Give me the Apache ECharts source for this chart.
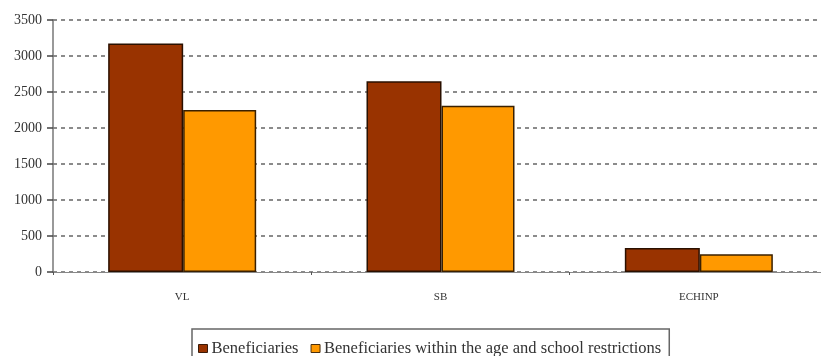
<!DOCTYPE html>
<html>
<head>
<meta charset="utf-8">
<script src="https://cdn.jsdelivr.net/npm/echarts@6/dist/echarts.min.js"></script>
<style>
  html, body { margin: 0; padding: 0; background: #ffffff; }
  #chart { width: 821px; height: 356px; }
</style>
</head>
<body>
<div id="chart"></div>
<script>
// Programmes shown along the x axis
const categories = ['VL', 'SB', 'ECHINP'];
// Number of beneficiaries per programme
const beneficiaries = [3175, 2650, 335];
// Beneficiaries who fall within the age and school restrictions
const withinRestrictions = [2250, 2310, 245];
// Value axis ticks
const yTicks = [0, 500, 1000, 1500, 2000, 2500, 3000, 3500];

const serif = '"Liberation Serif", "DejaVu Serif", serif';
const chart = echarts.init(document.getElementById('chart'));

chart.setOption({
  animation: false,
  backgroundColor: '#ffffff',
  // the plot runs past the right edge of the canvas, so keep the grid unclamped
  grid: { left: 53, top: 20, width: 775, height: 252, outerBoundsMode: 'none', containLabel: false },
  legend: {
    left: 192,
    top: 329,
    itemWidth: 9,
    itemHeight: 8,
    itemGap: 12,
    padding: [11, 8, 8, 6],
    borderColor: '#666',
    borderWidth: 1.5,
    textStyle: { fontFamily: serif, fontSize: 16.5, color: '#333', padding: [0, 0, 0, -1] },
    data: [
      { name: 'Beneficiaries', icon: 'rect', itemStyle: { borderColor: '#3a1a08', borderWidth: 1 } },
      { name: 'Beneficiaries within the age and school restrictions', icon: 'rect', itemStyle: { borderColor: '#4a3010', borderWidth: 1 } }
    ]
  },
  xAxis: {
    type: 'category',
    data: categories,
    axisLine: { lineStyle: { color: '#888', width: 1 } },
    axisTick: { show: true, length: 3, lineStyle: { color: '#555' } },
    axisLabel: { fontFamily: serif, fontSize: 11, color: '#333', margin: 20 },
    splitLine: { show: false }
  },
  yAxis: {
    type: 'value',
    min: yTicks[0],
    max: yTicks[yTicks.length - 1],
    interval: 500,
    axisLine: { show: true, lineStyle: { color: '#777', width: 1.5 } },
    axisTick: { show: true, length: 6, lineStyle: { color: '#444', width: 1.5 } },
    axisLabel: {
      fontFamily: serif, fontSize: 14, color: '#333', margin: 11,
      formatter: (v) => String(v)
    },
    splitLine: { show: true, lineStyle: { color: '#666', type: [4, 4], width: 1.5 } }
  },
  series: [
    {
      name: 'Beneficiaries',
      type: 'bar',
      data: beneficiaries,
      barWidth: 75,
      barGap: '0%',
      itemStyle: { color: '#993300', borderColor: '#2a1000', borderWidth: 1.5 }
    },
    {
      name: 'Beneficiaries within the age and school restrictions',
      type: 'bar',
      data: withinRestrictions,
      barWidth: 73,
      itemStyle: { color: '#FF9900', borderColor: '#3a2000', borderWidth: 1.5 }
    }
  ]
});
</script>
</body>
</html>
